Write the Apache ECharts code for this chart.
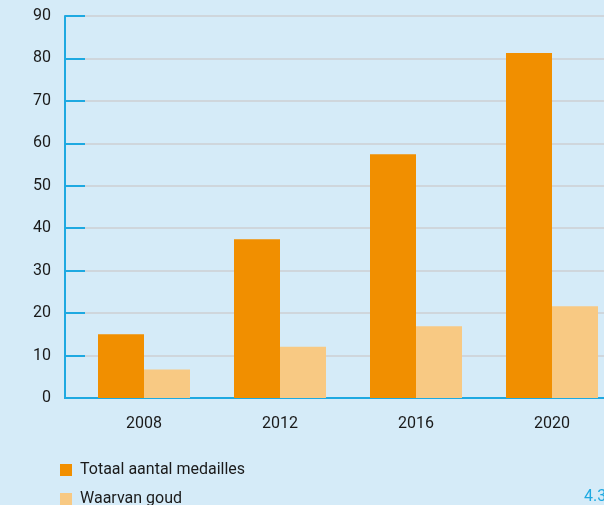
<!DOCTYPE html>
<html>
<head>
<meta charset="utf-8">
<script src="https://cdn.jsdelivr.net/npm/echarts@6/dist/echarts.min.js"></script>
<style>
  html, body { margin: 0; padding: 0; background: #d5ebf8; }
  #main { width: 604px; height: 505px; }
</style>
</head>
<body>
<div id="main"></div>
<script>
var years = ['2008', '2012', '2016', '2020'];
var totaal = [15, 37.4, 57.4, 81.3];
var goud = [6.7, 12.1, 16.9, 21.6];
var seriesNames = ['Totaal aantal medailles', 'Waarvan goud'];

var blue = '#1ea9e1';
var font = 'Roboto';
var legendText = {fontSize: 16, color: '#1a1a1a', fontFamily: font, padding: [0, 0, 0, 3]};

var chart = echarts.init(document.getElementById('main'));
var option = {
    backgroundColor: '#d5ebf8',
    animation: false,
    textStyle: {fontFamily: font},
    grid: {
        left: 76,
        width: 544,
        top: 16,
        bottom: 107,
        outerBoundsMode: 'none'   // last category runs past the right edge
    },
    // one legend per item so they stack like the reference
    legend: [{
        left: 60,
        top: 462,
        padding: 0,
        itemWidth: 12,
        itemHeight: 12,
        icon: 'rect',
        textStyle: legendText,
        data: [seriesNames[0]]
    }, {
        left: 60,
        top: 491,
        padding: 0,
        itemWidth: 12,
        itemHeight: 12,
        icon: 'rect',
        textStyle: legendText,
        data: [seriesNames[1]]
    }],
    xAxis: {
        type: 'category',
        data: years,
        axisLine: {lineStyle: {color: blue, width: 2}},
        axisTick: {
            inside: true,
            length: 8,
            lineStyle: {color: blue, width: 2},
            interval: function (i) { return i > 0; }
        },
        axisLabel: {fontSize: 16, color: '#1a1a1a', margin: 18, fontFamily: font}
    },
    yAxis: {
        type: 'value',
        min: 0,
        max: 90,
        interval: 10,
        offset: 11,
        axisLine: {show: true, lineStyle: {color: blue, width: 2}},
        axisTick: {show: true, inside: true, length: 20, lineStyle: {color: blue, width: 2}},
        axisLabel: {fontSize: 16, color: '#1a1a1a', margin: 14, fontFamily: font},
        splitLine: {lineStyle: {color: '#cfd6dc', width: 2}}
    },
    series: [{
        name: seriesNames[0],
        type: 'bar',
        data: totaal,
        barWidth: 46,
        barGap: '0%',
        itemStyle: {color: '#f18f00'}
    }, {
        name: seriesNames[1],
        type: 'bar',
        data: goud,
        barWidth: 46,
        itemStyle: {color: '#f8c983'}
    }],
    graphic: [{
        type: 'line',
        shape: {x1: 64, y1: 398, x2: 77, y2: 398},
        style: {stroke: blue, lineWidth: 2}
    }, {
        type: 'text',
        left: 584,
        top: 489,
        style: {text: '4.3', fill: blue, font: '16px Roboto'}
    }]
};
chart.setOption(option);
</script>
</body>
</html>
